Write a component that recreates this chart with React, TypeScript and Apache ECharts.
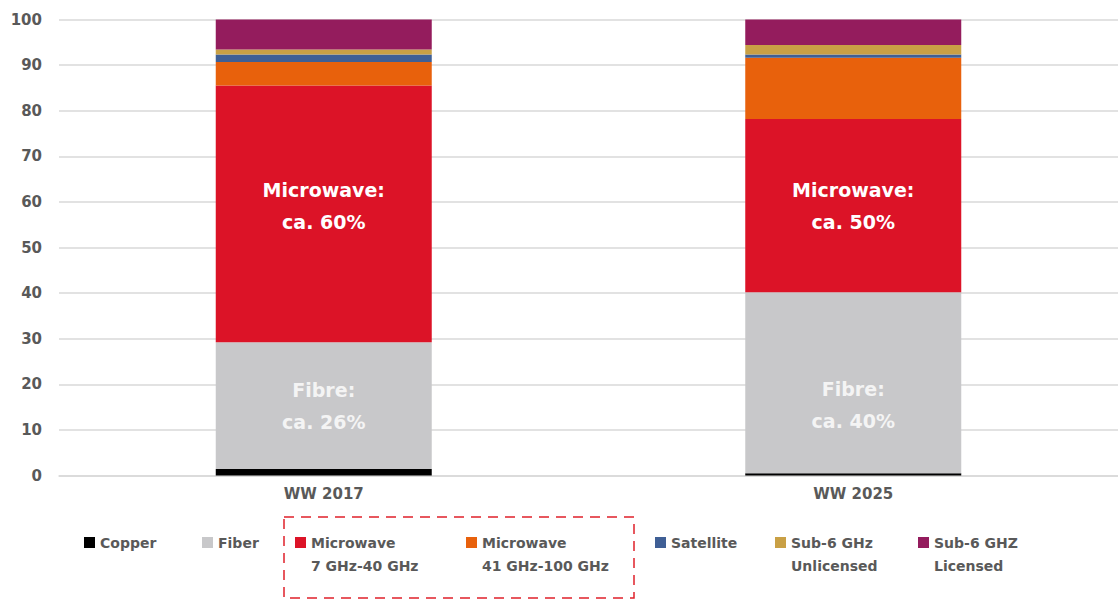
import React, { useEffect, useRef } from "react";
import * as echarts from "echarts";

const categories = ["WW 2017", "WW 2025"];
const seriesNames = [
  "Copper",
  "Fiber",
  "Microwave\n7 GHz-40 GHz",
  "Microwave\n41 GHz-100 GHz",
  "Satellite",
  "Sub-6 GHz\nUnlicensed",
  "Sub-6 GHZ\nLicensed",
];
const copper = [1.4, 0.5];
const fiber = [27.8, 39.7];
const microwaveLow = [56.3, 38.0];
const microwaveHigh = [5.2, 13.4];
const satellite = [1.6, 0.7];
const sub6Unlicensed = [1.1, 2.1];
const sub6Licensed = [6.6, 5.6];
const fibreLabels = ["Fibre:\nca. 26%", "Fibre:\nca. 40%"];
const microwaveLabels = ["Microwave:\nca. 60%", "Microwave:\nca. 50%"];
const yTicks = { min: 0, max: 100, interval: 10 };

const colors = ["#000000", "#c8c8ca", "#dc1327", "#e8610c", "#3f5f95", "#c9a045", "#941c5d"];
const legendLefts = [84, 202, 295, 466, 655, 775, 918];
const FONT = "DejaVu Sans";
const TEXT_GRAY = "#595959";

export default function App() {
  const ref = useRef<HTMLDivElement>(null);
  useEffect(() => {
    if (!ref.current) return;
    const chart = echarts.init(ref.current, undefined, { renderer: "svg" });
    const values = [copper, fiber, microwaveLow, microwaveHigh, satellite, sub6Unlicensed, sub6Licensed];
    const labelStyle = {
      show: true,
      position: "inside",
      fontFamily: FONT,
      fontWeight: "bold",
      fontSize: 19,
      lineHeight: 32,
    };
    const series = values.map((vals, i) => {
      let data: any[] = vals.map((v) => v);
      if (i === 1) {
        data = vals.map((v, j) => ({
          value: v,
          label: {
            ...labelStyle,
            color: "#f4f4f4",
            formatter: fibreLabels[j],
            offset: j === 1 ? [0, 22] : [0, 0],
          },
        }));
      }
      if (i === 2) {
        data = vals.map((v, j) => ({
          value: v,
          label: {
            ...labelStyle,
            color: "#ffffff",
            formatter: microwaveLabels[j],
            offset: j === 0 ? [0, -8] : [0, 0],
          },
        }));
      }
      return {
        name: seriesNames[i],
        type: "bar",
        stack: "total",
        barWidth: 216,
        itemStyle: { color: colors[i] },
        data,
      };
    });
    const twoLine = (n: string) => n.includes("\n");
    const legends = seriesNames.map((n, i) => ({
      data: [n],
      left: legendLefts[i],
      top: twoLine(n) ? 508 : 531,
      padding: 0,
      icon: "rect",
      itemWidth: 11,
      itemHeight: 11,
      selectedMode: false,
      formatter: twoLine(n) ? (name: string) => "\n" + name : undefined,
      textStyle: {
        fontFamily: FONT,
        fontWeight: "bold",
        fontSize: 14,
        color: TEXT_GRAY,
        lineHeight: 23,
      },
    }));
    chart.setOption({
      animation: false,
      color: colors,
      grid: { left: 59, top: 19.5, width: 1063, height: 456, containLabel: false },
      xAxis: {
        type: "category",
        data: categories,
        axisTick: { show: false },
        axisLine: { lineStyle: { color: "#d9d9d9", width: 1.5 } },
        axisLabel: {
          fontFamily: FONT,
          fontWeight: "bold",
          fontSize: 15,
          color: TEXT_GRAY,
          margin: 11,
        },
      },
      yAxis: {
        type: "value",
        min: yTicks.min,
        max: yTicks.max,
        interval: yTicks.interval,
        axisLine: { show: false },
        axisTick: { show: false },
        splitLine: { lineStyle: { color: "#d9d9d9", width: 1.5 } },
        axisLabel: {
          fontFamily: FONT,
          fontWeight: "bold",
          fontSize: 15,
          color: TEXT_GRAY,
          margin: 17,
        },
      },
      legend: legends,
      graphic: [
        {
          type: "rect",
          shape: { x: 284, y: 517, width: 350, height: 81 },
          style: { fill: "none", stroke: "#e0202a", lineWidth: 1.5, lineDash: [10, 7] },
        },
      ],
      series,
    });
    return () => chart.dispose();
  }, []);
  return (
    <div
      ref={ref}
      style={{ position: "absolute", left: 0, top: 0, width: 1118, height: 601, background: "#ffffff" }}
    />
  );
}
